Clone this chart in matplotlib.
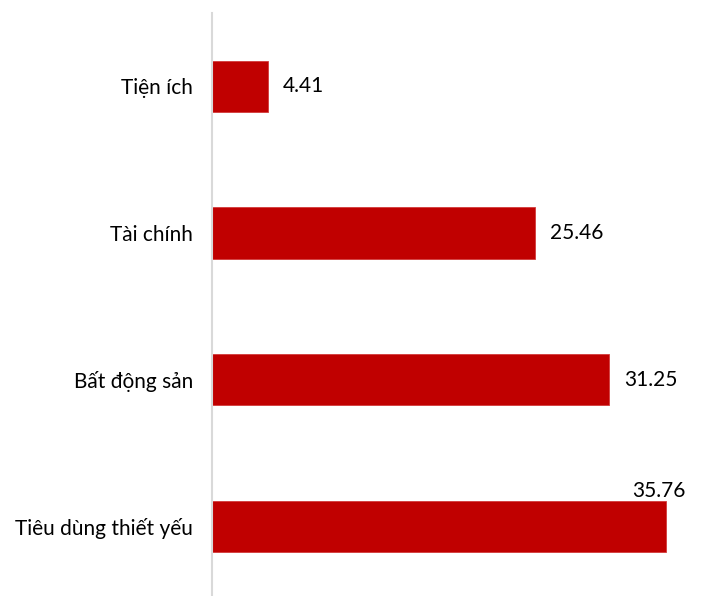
import matplotlib
matplotlib.use("Agg")
import matplotlib.pyplot as plt

categories = ["Tiện ích", "Tài chính", "Bất động sản", "Tiêu dùng thiết yếu"]
values = [4.41, 25.46, 31.25, 35.76]
labels = ["4.41", "25.46", "31.25", "35.76"]

plt.rcParams['font.family'] = ['Lato', 'DejaVu Sans']

W, H = 713, 596
fig = plt.figure(figsize=(W / 100, H / 100), dpi=100)
left, right, top, bottom = 212, 713, 13, 596
ax = fig.add_axes([left / W, 1 - bottom / H, (right - left) / W, (bottom - top) / H])

px_per_unit = 12.7
xmax = (right - left) / px_per_unit
ax.set_xlim(0, xmax)
ax.set_ylim(3.474, -0.501)

FS = 15
y = list(range(len(categories)))
ax.barh(y, values, height=0.35, color="#C00000", edgecolor="#D33A3A", linewidth=0.6)

for i, (v, lab) in enumerate(zip(values, labels)):
    if i == len(values) - 1:
        ax.annotate(lab, xy=(v, i), xytext=(-34, 35), textcoords="offset pixels",
                    ha="left", va="center", fontsize=FS, color="#000000")
    else:
        ax.annotate(lab, xy=(v, i), xytext=(15, 0), textcoords="offset pixels",
                    ha="left", va="center", fontsize=FS, color="#000000")

ax.set_yticks(y)
ax.set_yticklabels(categories, fontsize=FS, color="#000000")
ax.tick_params(axis="y", length=0, pad=13.5)
ax.set_xticks([])
for s in ["top", "right", "bottom"]:
    ax.spines[s].set_visible(False)
ax.spines["left"].set_color("#D9D9D9")
ax.spines["left"].set_linewidth(1.5)

fig.savefig("out.png", dpi=100)
